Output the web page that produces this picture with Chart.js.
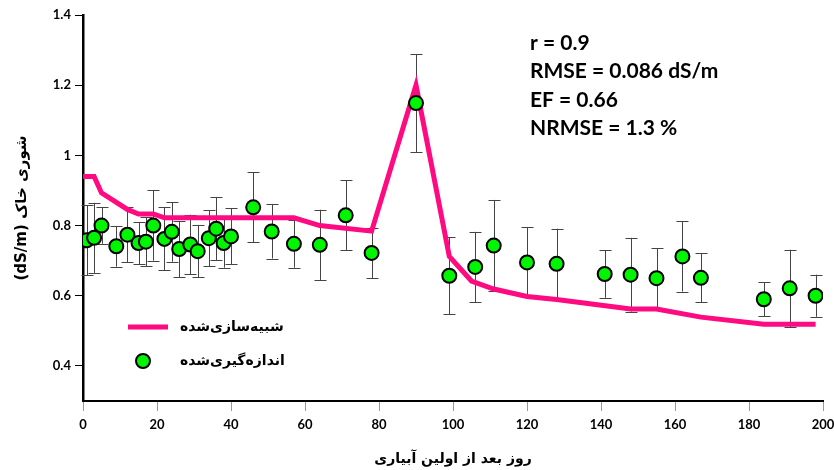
<!DOCTYPE html>
<html>
<head>
<meta charset="utf-8">
<script src="https://cdn.jsdelivr.net/npm/chart.js@4.4.1/dist/chart.umd.min.js"></script>
<style>
  html, body { margin: 0; padding: 0; background: #fff; }
  #wrap { width: 834px; height: 470px; }
</style>
</head>
<body>
<div id="wrap"><canvas id="salinityChart" width="834" height="470"></canvas></div>
<script>
// simulated line
const simDays = [0, 3, 5, 12, 15, 19, 22, 57, 64, 78, 90, 99, 105, 111, 120, 128, 148, 155, 167, 184, 198];
const simValues = [0.94, 0.94, 0.893, 0.846, 0.833, 0.833, 0.822, 0.822, 0.80, 0.784, 1.2, 0.712, 0.642, 0.619, 0.598, 0.589, 0.562, 0.562, 0.539, 0.519, 0.519];

// measured points + error
const obsDays = [1, 3, 5, 9, 12, 15, 17, 19, 22, 24, 26, 29, 31, 34, 36, 38, 40, 46, 51, 57, 64, 71, 78, 90, 99, 106, 111, 120, 128, 141, 148, 155, 162, 167, 184, 191, 198];
const obsValues = [0.758, 0.765, 0.80, 0.741, 0.774, 0.75, 0.754, 0.80, 0.762, 0.782, 0.733, 0.746, 0.727, 0.764, 0.791, 0.75, 0.769, 0.852, 0.783, 0.748, 0.745, 0.829, 0.722, 1.149, 0.657, 0.682, 0.743, 0.695, 0.691, 0.662, 0.66, 0.65, 0.712, 0.651, 0.59, 0.621, 0.60];
const obsErrors = [0.1, 0.1, 0.052, 0.058, 0.079, 0.06, 0.07, 0.10, 0.09, 0.085, 0.08, 0.085, 0.075, 0.08, 0.09, 0.07, 0.08, 0.10, 0.077, 0.068, 0.10, 0.10, 0.072, 0.14, 0.11, 0.10, 0.13, 0.10, 0.10, 0.068, 0.105, 0.085, 0.10, 0.07, 0.048, 0.11, 0.06];

const xTicks = [0, 20, 40, 60, 80, 100, 120, 140, 160, 180, 200];
const yTicks = [0.4, 0.6, 0.8, 1, 1.2, 1.4];

const statLines = ['r = 0.9', 'RMSE = 0.086 dS/m', 'EF = 0.66', 'NRMSE = 1.3 %'];
const simLabel = 'شبیه‌سازی‌شده';
const obsLabel = 'اندازه‌گیری‌شده';

const PINK = '#ff0a80';
const GREEN = '#00f500';
const numFont = 'Lato, "Open Sans", sans-serif';
const faFont = '"DejaVu Sans", sans-serif';

const errorBars = {
  id: 'errorBars',
  beforeDatasetsDraw(chart) {
    const { ctx, scales: { x, y } } = chart;
    ctx.save();
    ctx.strokeStyle = '#444';
    ctx.lineWidth = 1;
    obsDays.forEach((d, i) => {
      const px = Math.round(x.getPixelForValue(d)) + 0.5;
      const top = y.getPixelForValue(obsValues[i] + obsErrors[i]);
      const bot = y.getPixelForValue(obsValues[i] - obsErrors[i]);
      ctx.beginPath();
      ctx.moveTo(px, top); ctx.lineTo(px, bot);
      ctx.moveTo(px - 6, Math.round(top) + 0.5); ctx.lineTo(px + 6, Math.round(top) + 0.5);
      ctx.moveTo(px - 6, Math.round(bot) + 0.5); ctx.lineTo(px + 6, Math.round(bot) + 0.5);
      ctx.stroke();
    });
    ctx.restore();
  }
};

const extras = {
  id: 'extras',
  afterDraw(chart) {
    const ctx = chart.ctx;
    ctx.save();
    // stats text
    ctx.fillStyle = '#000';
    ctx.font = 'bold 21px ' + numFont;
    ctx.textBaseline = 'middle';
    ctx.textAlign = 'left';
    statLines.forEach((t, i) => ctx.fillText(t, 530, 43 + i * 28.5));

    // legend
    ctx.strokeStyle = PINK;
    ctx.lineWidth = 5;
    ctx.beginPath();
    ctx.moveTo(128, 327); ctx.lineTo(168, 327);
    ctx.stroke();
    ctx.beginPath();
    ctx.arc(143, 361, 7, 0, Math.PI * 2);
    ctx.fillStyle = GREEN;
    ctx.fill();
    ctx.lineWidth = 2;
    ctx.strokeStyle = '#000';
    ctx.stroke();
    ctx.fillStyle = '#000';
    ctx.font = 'bold 14px ' + faFont;
    ctx.fillText(simLabel, 180, 327);
    ctx.fillText(obsLabel, 180, 361);
    ctx.restore();
  }
};

new Chart(document.getElementById('salinityChart'), {
  type: 'scatter',
  data: {
    datasets: [{
      label: obsLabel,
      data: obsDays.map((d, i) => ({ x: d, y: obsValues[i] })),
      backgroundColor: GREEN,
      borderColor: '#000',
      borderWidth: 2,
      pointRadius: 7,
      order: 0
    }, {
      label: simLabel,
      data: simDays.map((d, i) => ({ x: d, y: simValues[i] })),
      showLine: true,
      borderColor: PINK,
      borderWidth: 5,
      pointRadius: 0,
      tension: 0,
      order: 1
    }]
  },
  options: {
    responsive: false,
    animation: false,
    layout: { padding: { left: 0, right: 0, top: 15, bottom: 0 } },
    plugins: { legend: { display: false }, tooltip: { enabled: false } },
    scales: {
      x: {
        type: 'linear', min: 0, max: 200,
        afterBuildTicks: s => { s.ticks = xTicks.map(v => ({ value: v })); },
        afterFit: s => { s.height = 69; s.paddingLeft = 0; s.paddingRight = 11; },
        grid: { drawOnChartArea: false, tickLength: 10, color: '#999' },
        border: { color: '#000', width: 2 },
        ticks: { color: '#000', padding: 6, maxRotation: 0, font: { family: numFont, size: 13, weight: 'bold' } },
        title: { display: true, text: 'روز بعد از اولین آبیاری', color: '#000', padding: { top: 0, bottom: 2 }, font: { family: faFont, size: 14, weight: 'bold' } }
      },
      y: {
        type: 'linear', min: 0.3, max: 1.4,
        afterBuildTicks: s => { s.ticks = yTicks.map(v => ({ value: v })); },
        afterFit: s => { s.width = 83; },
        grid: { drawOnChartArea: false, tickLength: 8, color: '#000' },
        border: { color: '#000', width: 2.5 },
        ticks: { color: '#000', padding: 4, callback: v => String(v), font: { family: numFont, size: 13, weight: 'bold' } },
        title: { display: true, text: '(dS/m) شوری خاک', color: '#000', padding: { top: 13, bottom: 0 }, font: { family: faFont, size: 15, weight: 'bold' } }
      }
    }
  },
  plugins: [errorBars, extras]
});
</script>
</body>
</html>
